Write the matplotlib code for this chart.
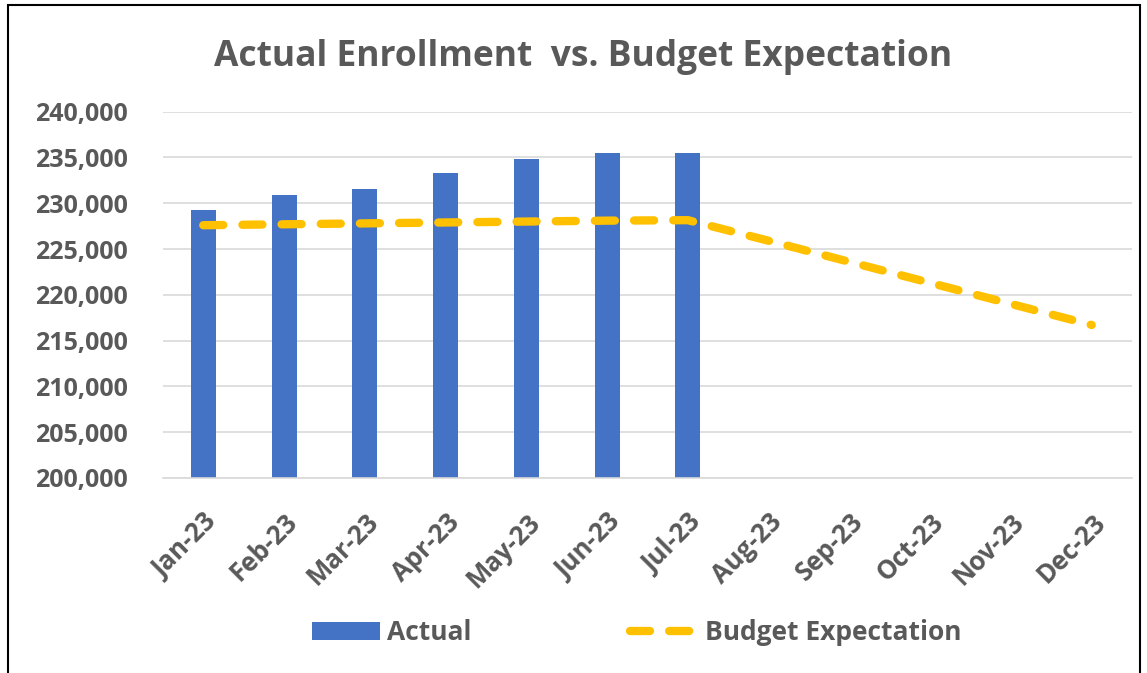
import matplotlib
matplotlib.use("Agg")
import matplotlib.pyplot as plt
from matplotlib.ticker import FuncFormatter
from matplotlib.patches import Rectangle

plt.rcParams['font.family'] = ['Open Sans', 'DejaVu Sans']

months = ['Jan-23', 'Feb-23', 'Mar-23', 'Apr-23', 'May-23', 'Jun-23',
          'Jul-23', 'Aug-23', 'Sep-23', 'Oct-23', 'Nov-23', 'Dec-23']
actual = [229300, 230950, 231600, 233250, 234850, 235500, 235500]
budget = [227600, 227700, 227800, 227900, 228000, 228100, 228150,
          225900, 223600, 221300, 219000, 216700]

grey = '#595959'
fig = plt.figure(figsize=(11.47, 6.73), dpi=100)
ax = fig.add_axes([0.142, 0.290, 0.845, 0.544])

x = list(range(len(months)))
ax.bar(x[:len(actual)], actual, width=0.31, color='#4472c4', label='Actual', zorder=2)
ax.plot(x, budget, color='#ffc000', lw=6, dashes=(2.4, 2.3),
        dash_capstyle='round', solid_capstyle='round', label='Budget Expectation', zorder=3)

ax.set_xlim(-0.5, 11.5)
ax.set_ylim(200000, 240000)
ax.set_yticks(range(200000, 240001, 5000))
ax.yaxis.set_major_formatter(FuncFormatter(lambda v, p: f'{int(v):,}'))
ax.grid(axis='y', color='#d9d9d9', lw=1.2, zorder=0)
ax.set_axisbelow(True)
for s in ['top', 'right', 'left']:
    ax.spines[s].set_visible(False)
ax.spines['bottom'].set_color('#d9d9d9')
ax.spines['bottom'].set_linewidth(1.2)
ax.tick_params(axis='y', length=0, labelsize=18, labelcolor=grey, pad=25)
ax.tick_params(axis='x', length=0, labelsize=18.5, labelcolor=grey, pad=22)
ax.set_xticks(x)
ax.set_xticklabels(months, rotation=45, ha='right', rotation_mode='anchor')
for t in ax.get_xticklabels() + ax.get_yticklabels():
    t.set_fontweight('bold')

fig.text(0.508, 0.916, 'Actual Enrollment  vs. Budget Expectation', ha='center', va='center',
         fontsize=25.5, fontweight='bold', color=grey)

h, l = ax.get_legend_handles_labels()
order = [l.index('Actual'), l.index('Budget Expectation')]
leg = fig.legend([h[i] for i in order], [l[i] for i in order], loc='center',
                 bbox_to_anchor=(0.555, 0.06), ncol=2, frameon=False,
                 fontsize=19, columnspacing=6.0, handlelength=2.6, handletextpad=0.25)
for t in leg.get_texts():
    t.set_color(grey)
    t.set_fontweight('bold')

fig.patches.append(Rectangle((0.007, -0.01), 0.987, 1.003, transform=fig.transFigure,
                             fill=False, edgecolor='black', lw=1.5))

fig.savefig('out.png', dpi=100)
